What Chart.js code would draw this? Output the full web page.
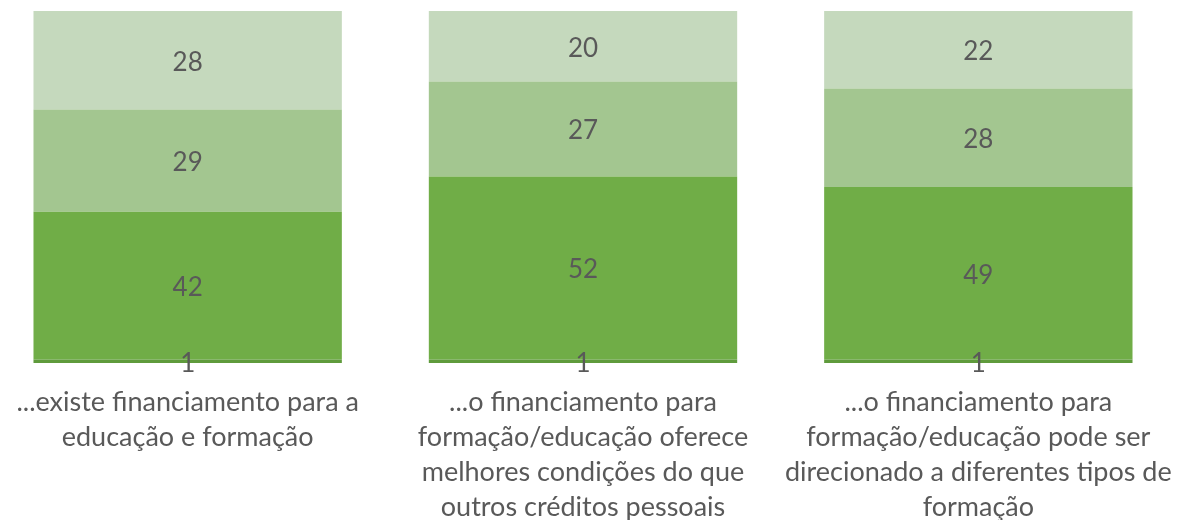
<!DOCTYPE html>
<html>
<head>
<meta charset="utf-8">
<script src="https://cdn.jsdelivr.net/npm/chart.js@4.4.0/dist/chart.umd.min.js"></script>
<style>
    html, body { margin: 0; padding: 0; background: #fff; overflow: hidden; }
    #wrap { position: absolute; left: -10px; top: 0; width: 1186px; height: 547px; }
</style>
</head>
<body>
<div id="wrap"><canvas id="chart"></canvas></div>
<script>
// Categories (multi-line labels)
var categories = [
    ['...existe financiamento para a', 'educação e formação'],
    ['...o financiamento para', 'formação/educação oferece', 'melhores condições do que', 'outros créditos pessoais'],
    ['...o financiamento para', 'formação/educação pode ser', 'direcionado a diferentes tipos de', 'formação']
];

// Series values, bottom to top
var serie1 = [1, 1, 1];
var serie2 = [42, 52, 49];
var serie3 = [29, 27, 28];
var serie4 = [28, 20, 22];

var colors = ['#5f9b3c', '#70ad47', '#a3c690', '#c5d9bd'];

var labelFont = '"Lato", "Open Sans", sans-serif';

// Simple inline data label plugin
var valueLabels = {
    id: 'valueLabels',
    afterDatasetsDraw: function (chart) {
        var ctx = chart.ctx;
        ctx.save();
        ctx.fillStyle = '#595959';
        ctx.font = '26px ' + labelFont;
        ctx.textAlign = 'center';
        ctx.textBaseline = 'middle';
        chart.data.datasets.forEach(function (ds, i) {
            chart.getDatasetMeta(i).data.forEach(function (bar, j) {
                var p = bar.getProps(['x', 'y', 'base'], true);
                ctx.fillText(ds.data[j], p.x, (p.y + p.base) / 2 + 2);
            });
        });
        ctx.restore();
    }
};

var config = {
    type: 'bar',
    data: {
        labels: categories,
        datasets: [
            { data: serie1, backgroundColor: colors[0] },
            { data: serie2, backgroundColor: colors[1] },
            { data: serie3, backgroundColor: colors[2] },
            { data: serie4, backgroundColor: colors[3] }
        ]
    },
    options: {
        responsive: true,
        maintainAspectRatio: false,
        animation: false,
        layout: { padding: { top: 11, bottom: 0, left: 0, right: 0 } },
        plugins: { legend: { display: false }, tooltip: { enabled: false } },
        datasets: { bar: { categoryPercentage: 0.78, barPercentage: 1.0 } },
        scales: {
            x: {
                stacked: true,
                grid: { display: false, drawTicks: false },
                border: { display: false },
                afterFit: function (scale) {
                    // keep the bars where they are, labels may overhang
                    scale.paddingLeft = 0;
                    scale.paddingRight = 0;
                },
                ticks: {
                    color: '#595959',
                    padding: 22,
                    maxRotation: 0,
                    autoSkip: false,
                    font: { family: labelFont, size: 27, lineHeight: '35px' }
                }
            },
            y: {
                stacked: true,
                display: false,
                min: 0,
                max: 100
            }
        }
    },
    plugins: [valueLabels]
};

new Chart(document.getElementById('chart').getContext('2d'), config);
</script>
</body>
</html>
